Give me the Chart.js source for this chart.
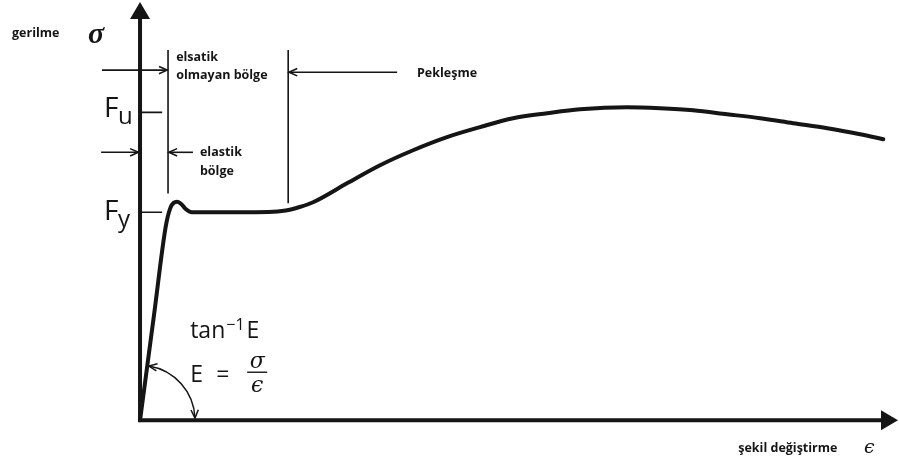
<!DOCTYPE html>
<html lang="tr">
<head>
<meta charset="UTF-8">
<title>Gerilme – şekil değiştirme eğrisi</title>
<script src="https://cdn.jsdelivr.net/npm/chart.js"></script>
<style>
  html, body { margin: 0; padding: 0; background: #fff; }
  #wrap { width: 899px; height: 464px; }
</style>
</head>
<body>
<div id="wrap"><canvas id="curve" width="899" height="464"></canvas></div>
<script>
// strain as a multiple of the yield strain, stress as a multiple of Fy
const strain = [0, 0.5, 0.92, 1.08, 1.2, 1.33, 1.47, 1.62, 1.85, 3.5, 4.6, 5.2, 5.7,
  6.18, 7.39, 8.57, 9.75, 10.96, 12.14, 13.32, 14.54, 15.71, 17.39, 18.57,
  19.75, 20.96, 22.14, 23.32, 24.54, 25.71, 26.54];
const stress = [0, 0.507, 0.933, 1.02, 1.045, 1.05, 1.04, 1.017, 1.0, 1.0, 1.001, 1.008, 1.025,
  1.048, 1.139, 1.226, 1.298, 1.361, 1.409, 1.452, 1.476, 1.495, 1.505, 1.5,
  1.49, 1.471, 1.452, 1.428, 1.404, 1.375, 1.351];

// stress levels marked on the vertical axis
const levelValues = [1.0, 1.48];
const levelSubs = ['y', 'u'];

// region borders along the strain axis
const elasticEnd = 1.0;
const hardeningStart = 5.29;

const INK = '#151515';
const BOLD = 'bold 12.5px "Open Sans", sans-serif';

const drawing = {
  id: 'drawing',
  afterDatasetsDraw(chart) {
    const ctx = chart.ctx;
    const xs = chart.scales.x, ys = chart.scales.y;
    const X = v => xs.getPixelForValue(v);
    const Y = v => ys.getPixelForValue(v);
    const ox = X(0), oy = Y(0);
    const area = chart.chartArea;

    ctx.save();
    ctx.strokeStyle = INK;
    ctx.fillStyle = INK;
    ctx.lineCap = 'butt';

    // axes with solid arrow heads
    ctx.lineWidth = 4;
    ctx.beginPath();
    ctx.moveTo(ox, oy + 2);
    ctx.lineTo(ox, area.top + 16);
    ctx.moveTo(ox - 2, oy);
    ctx.lineTo(area.right - 16, oy);
    ctx.stroke();
    ctx.beginPath();
    ctx.moveTo(ox, area.top + 2);
    ctx.lineTo(ox - 10, area.top + 19);
    ctx.lineTo(ox + 10, area.top + 19);
    ctx.closePath();
    ctx.fill();
    ctx.beginPath();
    ctx.moveTo(area.right - 1, oy);
    ctx.lineTo(area.right - 18, oy - 10);
    ctx.lineTo(area.right - 18, oy + 10);
    ctx.closePath();
    ctx.fill();

    const head = (x, y, dx, dy) => {
      const a = Math.atan2(dy, dx), L = 9, w = 0.42;
      ctx.beginPath();
      ctx.moveTo(x - L * Math.cos(a - w), y - L * Math.sin(a - w));
      ctx.lineTo(x, y);
      ctx.lineTo(x - L * Math.cos(a + w), y - L * Math.sin(a + w));
      ctx.stroke();
    };
    const arrow = (e0, s0, e1, s1) => {
      const x0 = X(e0), y0 = Y(s0), x1 = X(e1), y1 = Y(s1);
      ctx.beginPath();
      ctx.moveTo(x0, y0);
      ctx.lineTo(x1, y1);
      ctx.stroke();
      head(x1, y1, x1 - x0, y1 - y0);
    };

    // region borders and level ticks
    ctx.lineWidth = 1.6;
    ctx.beginPath();
    ctx.moveTo(X(elasticEnd), Y(1.78));
    ctx.lineTo(X(elasticEnd), Y(1.09));
    ctx.moveTo(X(hardeningStart), Y(1.78));
    ctx.lineTo(X(hardeningStart), Y(1.043));
    levelValues.forEach(v => {
      ctx.moveTo(ox, Y(v));
      ctx.lineTo(X(0.79), Y(v));
    });
    ctx.stroke();

    arrow(-1.36, 1.683, elasticEnd - 0.03, 1.683);
    arrow(9.18, 1.673, hardeningStart + 0.03, 1.673);
    arrow(-1.39, 1.288, -0.06, 1.288);
    arrow(1.89, 1.288, elasticEnd + 0.03, 1.288);

    // angle of the elastic line
    const r = 55;
    const a0 = -1.41, a1 = -0.04;
    ctx.lineWidth = 1.5;
    ctx.beginPath();
    ctx.arc(ox, oy, r, a0, a1);
    ctx.stroke();
    head(ox + r * Math.cos(a0), oy + r * Math.sin(a0), Math.sin(a0), -Math.cos(a0));
    head(ox + r * Math.cos(a1), oy + r * Math.sin(a1), -Math.sin(a1), Math.cos(a1));

    // text
    const text = (str, e, s, font, align, base) => {
      ctx.font = font;
      ctx.textAlign = align || 'left';
      ctx.textBaseline = base || 'middle';
      ctx.fillText(str, X(e), Y(s));
    };
    text('gerilme', -4.57, 1.861, BOLD);
    text('σ', -1.86, 1.85, 'bold italic 30px "Liberation Serif", serif');
    text('elsatik', 1.29, 1.745, BOLD);
    text('olmayan bölge', 1.29, 1.659, BOLD);
    text('Pekleşme', 9.89, 1.668, BOLD);
    text('elastik', 2.14, 1.288, BOLD);
    text('bölge', 2.14, 1.197, BOLD);
    text('şekil değiştirme', 21.36, -0.135, BOLD);
    text('ϵ', 25.85, -0.135, 'italic 19px "DejaVu Serif", serif');

    const SANS = '"Open Sans", sans-serif';
    levelValues.forEach((v, i) => {
      const bx = X(-1.29), by = Y(v) + 8 - (i === 1 ? 3 : 0);
      ctx.font = '28px ' + SANS;
      ctx.textAlign = 'left';
      ctx.textBaseline = 'alphabetic';
      ctx.fillText('F', bx, by);
      ctx.font = '24px ' + SANS;
      ctx.fillText(levelSubs[i], bx + 14, by + 7);
    });

    // tan⁻¹E and E = σ/ϵ
    ctx.textBaseline = 'alphabetic';
    ctx.textAlign = 'left';
    let x = X(1.79), y = Y(0.394);
    ctx.font = '23px ' + SANS;
    ctx.fillText('tan', x, y);
    x += ctx.measureText('tan').width;
    ctx.font = '16px ' + SANS;
    ctx.fillText('−1', x + 1, y - 8);
    x += ctx.measureText('−1').width + 3;
    ctx.font = '23px ' + SANS;
    ctx.fillText('E', x, y);

    x = X(1.79); y = Y(0.183);
    ctx.fillText('E', x, y);
    ctx.fillText('=', x + 26, y);
    const fx = x + 57, fy = y - 10;
    ctx.lineWidth = 1.4;
    ctx.beginPath();
    ctx.moveTo(fx, fy);
    ctx.lineTo(fx + 20, fy);
    ctx.stroke();
    ctx.textAlign = 'center';
    ctx.font = 'italic 22px "DejaVu Serif", serif';
    ctx.fillText('σ', fx + 10, fy - 4);
    ctx.fillText('ϵ', fx + 10, fy + 20);

    ctx.restore();
  }
};

new Chart(document.getElementById('curve'), {
  type: 'scatter',
  data: {
    datasets: [{
      data: strain.map((e, i) => ({ x: e, y: stress[i] })),
      showLine: true,
      borderColor: INK,
      borderWidth: 4,
      pointRadius: 0,
      cubicInterpolationMode: 'monotone',
      fill: false
    }]
  },
  options: {
    responsive: false,
    animation: false,
    layout: { padding: 0 },
    elements: { line: { borderCapStyle: 'round', borderJoinStyle: 'round' } },
    scales: {
      x: { type: 'linear', min: -5, max: 27.1, display: false },
      y: { type: 'linear', min: -0.21, max: 2.02, display: false }
    },
    plugins: { legend: { display: false }, tooltip: { enabled: false } }
  },
  plugins: [drawing]
});
</script>
</body>
</html>
